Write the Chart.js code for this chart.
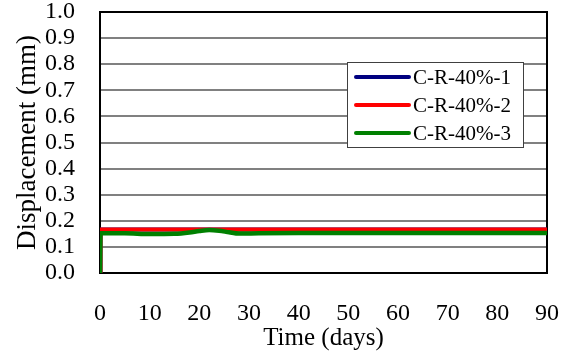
<!DOCTYPE html>
<html>
<head>
<meta charset="utf-8">
<script src="https://cdn.jsdelivr.net/npm/chart.js@4/dist/chart.umd.min.js"></script>
<style>
  body { margin: 0; background: #fff; }
  canvas { display: block; }
</style>
</head>
<body>
<canvas id="chart" width="563" height="358"></canvas>
<script>
// data
const seriesNames = ['C-R-40%-1', 'C-R-40%-2', 'C-R-40%-3'];
const seriesColors = ['#000080', '#ff0000', '#008000'];

const days1 = [0, 0.1, 10, 20, 30, 40, 50, 60, 70, 80, 90];
const disp1 = [0, 0.167, 0.167, 0.167, 0.167, 0.167, 0.167, 0.167, 0.167, 0.167, 0.167];

const days2 = [0, 0.1, 10, 20, 30, 40, 50, 60, 70, 80, 90];
const disp2 = [0, 0.167, 0.167, 0.167, 0.167, 0.167, 0.167, 0.167, 0.167, 0.167, 0.167];

const days3 = [0, 0.1, 5, 10, 15, 18, 20, 22, 24, 26, 28, 32, 40, 50, 60, 70, 80, 90];
const disp3 = [0, 0.152, 0.152, 0.149, 0.150, 0.155, 0.161, 0.165, 0.162, 0.156, 0.151, 0.152, 0.153, 0.153, 0.153, 0.153, 0.153, 0.153];

const xTicks = [0, 10, 20, 30, 40, 50, 60, 70, 80, 90];
const yTicks = [0, 0.1, 0.2, 0.3, 0.4, 0.5, 0.6, 0.7, 0.8, 0.9, 1.0];

function pts(xs, ys) {
  return xs.map((x, i) => ({ x: x, y: ys[i] }));
}

const serif = 'Liberation Serif, Times New Roman, serif';

function noPad(axis) {
  axis.paddingTop = 0;
  axis.paddingBottom = 0;
  axis.paddingLeft = 0;
  axis.paddingRight = 0;
}

// frame round the plot area, under the lines
const framePlugin = {
  id: 'frame',
  beforeDatasetsDraw(chart) {
    const a = chart.chartArea, ctx = chart.ctx;
    ctx.save();
    ctx.strokeStyle = '#000';
    ctx.lineWidth = 2;
    ctx.strokeRect(a.left, a.top, a.right - a.left, a.bottom - a.top);
    ctx.restore();
  }
};

// boxed legend inside the plot
const boxLegend = {
  id: 'boxLegend',
  afterDraw(chart) {
    const ctx = chart.ctx;
    const x = 347, y = 62, w = 176, h = 85;
    ctx.save();
    ctx.fillStyle = '#fff';
    ctx.fillRect(x, y, w, h);
    ctx.strokeStyle = '#404040';
    ctx.lineWidth = 1;
    ctx.strokeRect(x + 0.5, y + 0.5, w, h);
    ctx.font = '21px ' + serif;
    ctx.textBaseline = 'middle';
    chart.data.datasets.forEach((ds, i) => {
      const ry = 77 + i * 28;
      ctx.strokeStyle = ds.borderColor;
      ctx.lineWidth = 4;
      ctx.lineCap = 'round';
      ctx.beginPath();
      ctx.moveTo(356, ry);
      ctx.lineTo(409, ry);
      ctx.stroke();
      ctx.fillStyle = '#000';
      ctx.fillText(ds.label, 413, ry + 1);
    });
    ctx.restore();
  }
};

new Chart(document.getElementById('chart').getContext('2d'), {
  type: 'line',
  data: {
    datasets: [
      { label: seriesNames[0], data: pts(days1, disp1), borderColor: seriesColors[0], borderWidth: 4, order: 3 },
      { label: seriesNames[1], data: pts(days2, disp2), borderColor: seriesColors[1], borderWidth: 4, order: 2 },
      { label: seriesNames[2], data: pts(days3, disp3), borderColor: seriesColors[2], borderWidth: 4.5, order: 1,
        cubicInterpolationMode: 'monotone' }
    ]
  },
  options: {
    responsive: false,
    animation: false,
    layout: { padding: { top: 12, right: 16, left: 0, bottom: 0 } },
    elements: { point: { radius: 0 }, line: { fill: false } },
    plugins: { legend: { display: false }, tooltip: { enabled: false } },
    scales: {
      x: {
        type: 'linear',
        min: 0, max: 90,
        afterBuildTicks(axis) { axis.ticks = xTicks.map(v => ({ value: v })); },
        afterFit(axis) { axis.height = 85; noPad(axis); },
        grid: { display: false, drawTicks: false },
        border: { display: false },
        ticks: { padding: 26, autoSkip: false, color: '#000', font: { family: serif, size: 24 }, maxRotation: 0 },
        title: { display: true, text: 'Time (days)', color: '#000', font: { family: serif, size: 25 }, padding: { top: 0, bottom: 5 } }
      },
      y: {
        min: 0, max: 1,
        afterBuildTicks(axis) { axis.ticks = yTicks.map(v => ({ value: v })); },
        afterFit(axis) { axis.width = 100; noPad(axis); },
        grid: { color: '#808080', lineWidth: 2, drawTicks: false },
        border: { display: false },
        ticks: { padding: 25, autoSkip: false, color: '#000', font: { family: serif, size: 24 },
          callback: v => v.toFixed(1) },
        title: { display: true, text: 'Displacement (mm)', color: '#000', font: { family: serif, size: 27 }, padding: { top: 12, bottom: 0 } }
      }
    }
  },
  plugins: [framePlugin, boxLegend]
});
</script>
</body>
</html>
